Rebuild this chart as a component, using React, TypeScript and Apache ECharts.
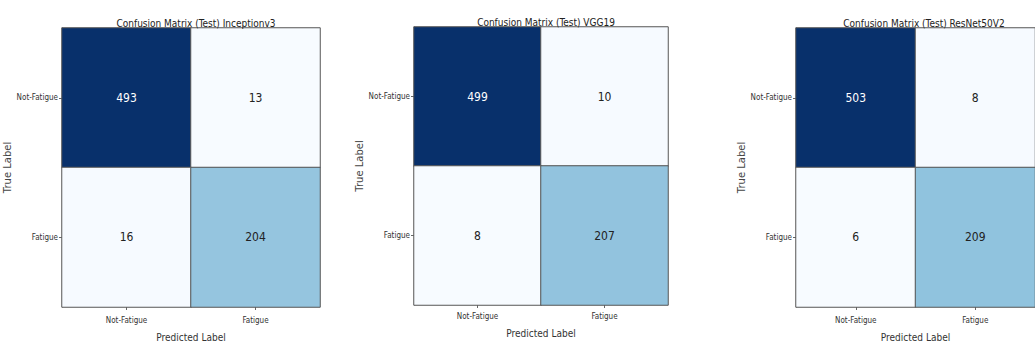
import React, { useEffect, useRef } from "react";
import * as echarts from "echarts";

const classes = ["Not-Fatigue", "Fatigue"];
const titles = [
  "Confusion Matrix (Test) Inceptionv3",
  "Confusion Matrix (Test) VGG19",
  "Confusion Matrix (Test) ResNet50V2",
];
// rows = true label, cols = predicted label
const inceptionV3 = [
  [493, 13],
  [16, 204],
];
const vgg19 = [
  [499, 10],
  [8, 207],
];
const resNet50V2 = [
  [503, 8],
  [6, 209],
];
const matrices = [inceptionV3, vgg19, resNet50V2];

const grids = [
  { left: 62, top: 28, width: 258, height: 287 },
  { left: 414, top: 27, width: 254, height: 278 },
  { left: 796, top: 28, width: 246, height: 287 },
];
const xLabelMargin = [9, 7, 9];
const xNameGap = [25, 23, 25];

const blues = ["#f7fbff", "#deebf7", "#c6dbef", "#9ecae1", "#6baed6", "#4292c6", "#2171b5", "#08519c", "#08306b"];
const narrow = "'Liberation Sans Narrow', 'DejaVu Sans Condensed', sans-serif";

export default function App() {
  const ref = useRef<HTMLDivElement>(null);
  useEffect(() => {
    if (!ref.current) return;
    const chart = echarts.init(ref.current, null, { renderer: "svg" });
    const option: any = {
      animation: false,
      backgroundColor: "#ffffff",
      title: titles.map((t, i) => ({
        text: t,
        left: grids[i].left + grids[i].width / 2,
        top: grids[i].top - 15,
        textAlign: "center",
        textStyle: { fontFamily: narrow, fontSize: 10, fontWeight: "normal", color: "#222" },
      })),
      grid: grids.map((g) => ({ ...g })),
      xAxis: grids.map((g, i) => ({
        type: "category",
        gridIndex: i,
        data: classes,
        name: "Predicted Label",
        nameLocation: "middle",
        nameGap: xNameGap[i],
        nameTextStyle: { fontFamily: narrow, fontSize: 10, color: "#333" },
        axisLine: { show: false },
        axisTick: { show: true, alignWithLabel: true, length: 3, lineStyle: { color: "#666" } },
        axisLabel: { fontFamily: narrow, fontSize: 8, color: "#333", margin: xLabelMargin[i] },
        splitLine: { show: false },
      })),
      yAxis: grids.map((g, i) => ({
        type: "category",
        gridIndex: i,
        data: classes,
        inverse: true,
        name: "True Label",
        nameLocation: "middle",
        nameGap: 41,
        nameRotate: 90,
        nameTextStyle: { fontFamily: "'DejaVu Sans', sans-serif", fontSize: 10, color: "#444" },
        axisLine: { show: true, lineStyle: { color: "#999" } },
        axisTick: { show: true, alignWithLabel: true, length: 3, lineStyle: { color: "#666" } },
        axisLabel: { fontFamily: narrow, fontSize: 8, color: "#333", margin: 4 },
        splitLine: { show: false },
      })),
      visualMap: matrices.map((m, i) => {
        const flat = m.flat();
        return {
          show: false,
          seriesIndex: i,
          min: Math.min(...flat),
          max: Math.max(...flat),
          inRange: { color: blues },
        };
      }),
      series: matrices.map((m, i) => {
        const flat = m.flat();
        const mid = (Math.min(...flat) + Math.max(...flat)) / 2;
        const data: any[] = [];
        m.forEach((row, r) =>
          row.forEach((v, c) =>
            data.push({ value: [c, r, v], label: { color: v > mid ? "#ffffff" : "#222222" } })
          )
        );
        return {
          type: "heatmap",
          xAxisIndex: i,
          yAxisIndex: i,
          data,
          label: { show: true, fontFamily: narrow, fontSize: 12 },
          itemStyle: { borderColor: "#555", borderWidth: 1 },
          emphasis: { disabled: true },
        };
      }),
    };
    chart.setOption(option);
    return () => chart.dispose();
  }, []);
  return (
    <div
      ref={ref}
      style={{ position: "fixed", left: 0, top: 0, width: 1035, height: 347, background: "#fff" }}
    />
  );
}
